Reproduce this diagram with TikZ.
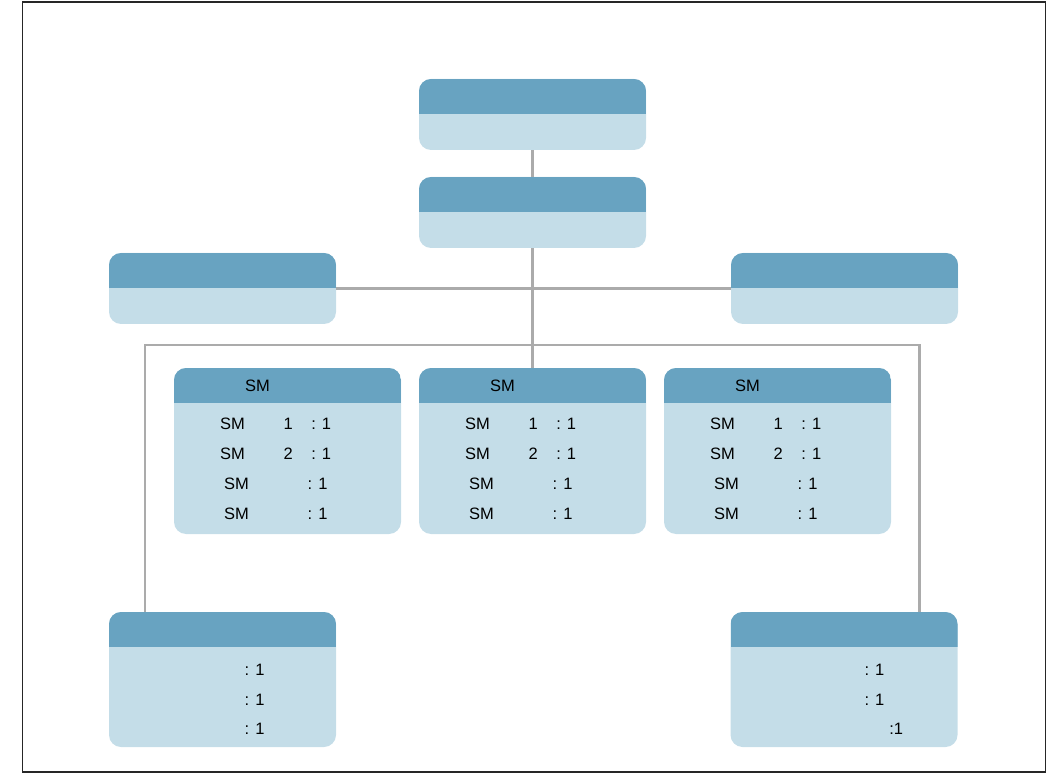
\documentclass[tikz,border=0pt]{standalone}
\usepackage{fontspec}
\setmainfont{Liberation Sans}
\usetikzlibrary{positioning,calc}
\definecolor{headblue}{HTML}{68A3C1}
\definecolor{bodyblue}{HTML}{C4DDE8}
\definecolor{linkgray}{HTML}{ABABAB}

\begin{document}
\begin{tikzpicture}[x=1pt,y=-1pt,
  card/.style={rounded corners=12pt,fill=bodyblue,minimum width=227pt,inner sep=0pt,
    path picture={\fill[headblue,sharp corners] (path picture bounding box.north west) rectangle ([yshift=-35pt]path picture bounding box.north east);}},
  link/.style={linkgray,line width=2.5pt},
  lbl/.style={inner sep=0pt,anchor=base west,font=\fontsize{16.5}{19}\selectfont}]
\useasboundingbox (0,0) rectangle (1049,775);
\draw[black!85,line width=1.5pt] (22.5,2) rectangle (1045.5,772);
% boxes
\node[card,minimum height=71pt] (root) at (532.5,114.5) {};
\node[card,minimum height=71pt] (sub) at (532.5,212.5) {};
\node[card,minimum height=71pt] (wingL) at (222.5,288.5) {};
\node[card,minimum height=71pt] (wingR) at (844.5,288.5) {};
\foreach \i/\x in {1/287.5,2/532.5,3/777.5}
  \node[card,minimum height=166pt] (sm\i) at (\x,451) {};
\node[card,minimum height=135pt] (baseL) at (222.5,679.5) {};
\node[card,minimum height=135pt] (baseR) at (844,679.5) {};
% texts of the three middle boxes
\foreach \i in {1,2,3}{
  \node[lbl] (sm\i h) at ($(sm\i.north west)+(71,24)$) {SM};
  \foreach \r/\y/\sx/\cx in {1/61.5/46/137.3,2/91.5/46/137.3,3/121.5/50/133.6,4/151.5/50/133.6}{
    \node[lbl] (sm\i n\r) at ($(sm\i.north west)+(\sx,\y)$) {SM};
    \node[lbl] (sm\i q\r) at ($(sm\i.north west)+(\cx,\y)$) {: 1};
  }
  \foreach \r/\y in {1/61.5,2/91.5}
    \node[lbl,anchor=base] (sm\i d\r) at ($(sm\i.north west)+(114.5,\y)$) {\r};
}
\foreach \r/\y in {1/63.5,2/93.5,3/122.5}
  \node[lbl] (bl\r) at ($(baseL.north west)+(135.6,\y)$) {: 1};
\node[lbl] (br1) at ($(baseR.north west)+(134,63.5)$) {: 1};
\node[lbl] (br2) at ($(baseR.north west)+(134,93.5)$) {: 1};
\node[lbl] (br3) at ($(baseR.north west)+(158.8,122.5)$) {:1};
% connectors
\coordinate (bus) at (532.5,345);
\draw[link] (root) -- (sub);
\draw[link] (sub) -- (sm2);
\draw[link] (wingL) -- (wingR);
\draw[link] ([xshift=36pt]baseL.north west) |- (bus) -| ([xshift=-38pt]baseR.north east);
\end{tikzpicture}
\end{document}
